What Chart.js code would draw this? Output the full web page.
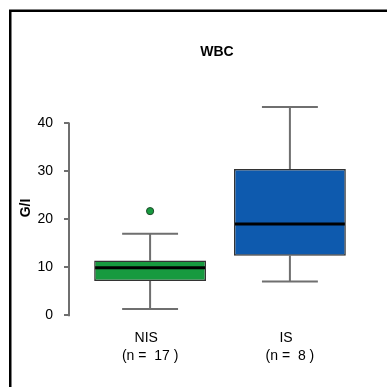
<!DOCTYPE html>
<html>
<head>
<meta charset="utf-8">
<script src="https://cdn.jsdelivr.net/npm/chart.js@4.4.1/dist/chart.umd.min.js"></script>
<style>
  html, body { margin: 0; padding: 0; background: #fff; }
  canvas { display: block; }
</style>
</head>
<body>
<canvas id="wbc" width="387" height="387"></canvas>
<script>
/* =========================
   DATOS
========================= */
const groups = ['NIS  ', 'IS  '];
const counts = ['(n =  17 )', '(n =  8 )'];
const positions = [1, 2];
const whiskerLow = [1.3, 7.0];
const q1 = [7.1, 12.4];
const median = [9.9, 19.0];
const q3 = [11.4, 30.5];
const whiskerHigh = [17.0, 43.4];
const outlierPos = [1];
const outlierVal = [21.7];
const yTicks = [0, 10, 20, 30, 40];

const fills = ['#179a3f', '#0e5aae'];
const FONT = '"Liberation Sans", Arial, sans-serif';

/* rango como R: 4% extra */
const allVals = whiskerLow.concat(whiskerHigh, outlierVal);
const yLo = Math.min(...allVals), yHi = Math.max(...allVals);
const yPad = (yHi - yLo) * 0.04;
const xPad = (positions.length + 0.5 - 0.5) * 0.04;

/* =========================
   PLUGIN BOXPLOT
========================= */
const boxExtras = {
  id: 'boxExtras',
  beforeDatasetsDraw(chart) {
    const { ctx, scales: { x, y } } = chart;
    ctx.save();
    ctx.strokeStyle = '#6f6f6f';
    ctx.lineWidth = 2;
    positions.forEach((p, i) => {
      const cx = x.getPixelForValue(p);
      const c0 = x.getPixelForValue(p - 0.2);
      const c1 = x.getPixelForValue(p + 0.2);
      ctx.beginPath();
      ctx.moveTo(cx, y.getPixelForValue(q3[i]));
      ctx.lineTo(cx, y.getPixelForValue(whiskerHigh[i]));
      ctx.moveTo(c0, y.getPixelForValue(whiskerHigh[i]));
      ctx.lineTo(c1, y.getPixelForValue(whiskerHigh[i]));
      ctx.moveTo(cx, y.getPixelForValue(q1[i]));
      ctx.lineTo(cx, y.getPixelForValue(whiskerLow[i]));
      ctx.moveTo(c0, y.getPixelForValue(whiskerLow[i]));
      ctx.lineTo(c1, y.getPixelForValue(whiskerLow[i]));
      ctx.stroke();
    });
    ctx.restore();
  },
  afterDatasetsDraw(chart) {
    const { ctx, scales: { y } } = chart;
    const meta = chart.getDatasetMeta(0);
    ctx.save();
    ctx.strokeStyle = '#000';
    ctx.lineWidth = 3;
    meta.data.forEach((bar, i) => {
      const my = y.getPixelForValue(median[i]);
      ctx.beginPath();
      ctx.moveTo(bar.x - bar.width / 2 + 1, my);
      ctx.lineTo(bar.x + bar.width / 2 - 1, my);
      ctx.stroke();
    });
    ctx.restore();
  },
  afterDraw(chart) {
    const { ctx, chartArea, scales: { y } } = chart;
    ctx.save();
    // eje y solo de 0 a 40
    ctx.strokeStyle = '#6f6f6f';
    ctx.lineWidth = 2;
    ctx.beginPath();
    ctx.moveTo(chartArea.left, y.getPixelForValue(yTicks[0]) + 1);
    ctx.lineTo(chartArea.left, y.getPixelForValue(yTicks[yTicks.length - 1]) - 1);
    ctx.stroke();
    // titulo
    ctx.fillStyle = '#000';
    ctx.font = 'bold 14px ' + FONT;
    ctx.textAlign = 'center';
    ctx.textBaseline = 'middle';
    ctx.fillText('WBC', (chartArea.left + chartArea.right) / 2 - 3, 52);
    // marco exterior
    ctx.strokeStyle = '#000';
    ctx.lineWidth = 2.5;
    ctx.strokeRect(10.25, 10.75, 400, 400);
    ctx.restore();
  }
};

/* =========================
   GRÁFICA
========================= */
const ctx = document.getElementById('wbc').getContext('2d');
const chart = new Chart(ctx, {
  type: 'bar',
  data: {
    datasets: [
      {
        data: positions.map((p, i) => ({ x: p, y: [q1[i], q3[i]] })),
        backgroundColor: fills,
        borderColor: '#333',
        borderWidth: 1.5,
        borderSkipped: false,
        barPercentage: 0.8,
        categoryPercentage: 1
      },
      {
        type: 'scatter',
        data: outlierPos.map((p, i) => ({ x: p, y: outlierVal[i] })),
        backgroundColor: fills[0],
        borderColor: '#1f4a2a',
        borderWidth: 1,
        pointRadius: 3.6
      }
    ]
  },
  options: {
    responsive: false,
    animation: false,
    devicePixelRatio: 1,
    layout: { padding: { top: 99, right: 16, bottom: 0, left: 0 } },
    plugins: {
      legend: { display: false },
      tooltip: { enabled: false }
    },
    scales: {
      x: {
        type: 'linear',
        offset: false,
        min: positions[0] - 0.5 - xPad,
        max: positions[positions.length - 1] + 0.5 + xPad,
        afterBuildTicks: s => { s.ticks = positions.map(v => ({ value: v })); },
        afterFit: s => { s.height = 70; },
        grid: { display: false, drawTicks: false, tickLength: 0 },
        border: { display: false },
        ticks: {
          padding: 12,
          color: '#000',
          maxRotation: 0,
          autoSkip: false,
          font: { family: FONT, size: 14, lineHeight: 18 / 14 },
          callback: v => {
            const i = positions.indexOf(v);
            return i < 0 ? '' : [groups[i], counts[i]];
          }
        }
      },
      y: {
        min: yLo - yPad,
        max: yHi + yPad,
        afterBuildTicks: s => { s.ticks = yTicks.map(v => ({ value: v })); },
        afterFit: s => { s.width = 69; },
        border: { display: false },
        grid: {
          drawOnChartArea: false,
          drawTicks: true,
          tickLength: 5,
          color: '#6f6f6f',
          lineWidth: 2
        },
        ticks: {
          padding: 11,
          color: '#000',
          font: { family: FONT, size: 14 }
        },
        title: {
          display: true,
          text: 'G/I',
          color: '#000',
          padding: { top: 18, bottom: 0 },
          font: { family: FONT, size: 14, weight: 'bold' }
        }
      }
    }
  },
  plugins: [boxExtras]
});
</script>
</body>
</html>
